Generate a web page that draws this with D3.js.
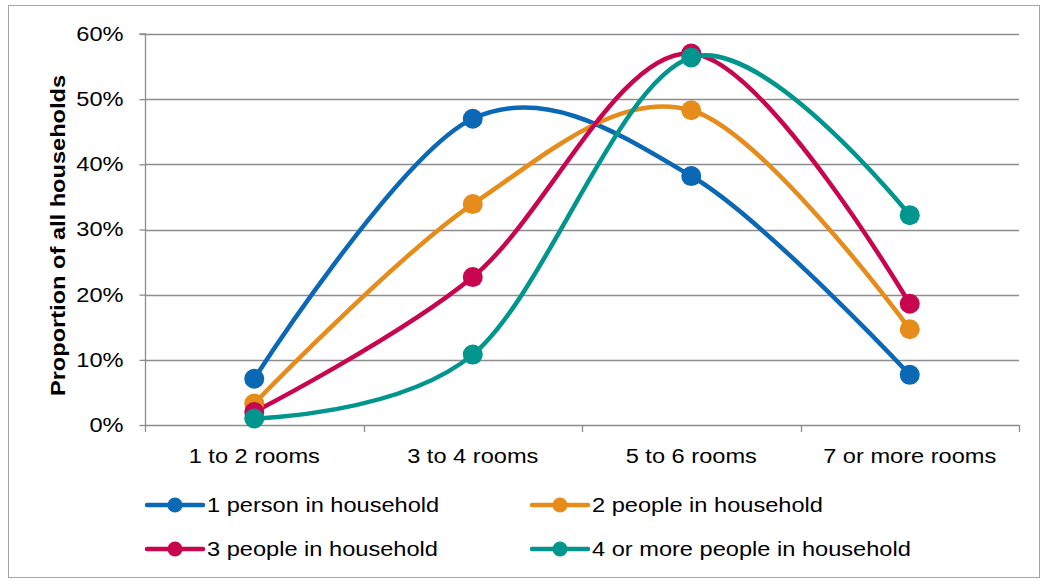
<!DOCTYPE html>
<html><head><meta charset="utf-8">
<script src="https://cdn.jsdelivr.net/npm/d3@7"></script>
<style>body{margin:0;background:#fff;} text{font-family:"Liberation Sans",Arial,sans-serif;}</style>
</head><body><svg id="c" width="1044" height="581"></svg>
<script>
const categories = ["1 to 2 rooms","3 to 4 rooms","5 to 6 rooms","7 or more rooms"];
const seriesNames = ["1 person in household","2 people in household","3 people in household","4 or more people in household"];
const onePerson = [7.1, 47.0, 38.2, 7.7];
const twoPeople = [3.3, 33.9, 48.3, 14.7];
const threePeople = [2.0, 22.7, 57.0, 18.6];
const fourPlus = [1.0, 10.8, 56.4, 32.2];
const yTicks = [0,10,20,30,40,50,60];
const colors = ["#0B68B4","#E68C1A","#C7064F","#00958D"];
const series = [onePerson, twoPeople, threePeople, fourPlus];
const FS = 20, STRETCH = 1.18;

const svg = d3.select("#c");
svg.append("rect").attr("x",8.5).attr("y",5.5).attr("width",1031).attr("height",572)
  .attr("fill","#fff").attr("stroke","#a6a6a6").attr("stroke-width",1);

const L=145, R=1019, T=34, B=425;
const x = d3.scaleBand().domain(categories).range([L,R]);
const y = d3.scaleLinear().domain([0,60]).range([B,T]);

svg.append("g").selectAll("line").data(yTicks.filter(d=>d>0)).join("line")
  .attr("x1",L).attr("x2",R).attr("y1",d=>Math.round(y(d))+0.5).attr("y2",d=>Math.round(y(d))+0.5)
  .attr("stroke","#8c8c8c").attr("stroke-width",1.3);

const ya = svg.append("g").attr("transform",`translate(${L+0.5},0)`)
  .call(d3.axisLeft(y).tickValues(yTicks).tickFormat(d=>d+"%").tickSize(6).tickPadding(16));
ya.select(".domain").attr("stroke","#8c8c8c").attr("stroke-width",1.3).attr("d",`M-6,${T}H0V${B}`);
ya.selectAll(".tick line").attr("stroke","#8c8c8c").attr("stroke-width",1.3);
ya.selectAll(".tick text").attr("font-size",FS).attr("fill","#000").attr("font-family","Liberation Sans, Arial, sans-serif");

const xa = svg.append("g").attr("transform",`translate(0,${B+0.5})`)
  .call(d3.axisBottom(x).tickSize(0).tickPadding(23));
xa.select(".domain").attr("stroke","#8c8c8c").attr("stroke-width",1.3).attr("d",`M${L},0H${R}`);
xa.selectAll(".tick text").attr("font-size",FS).attr("fill","#000").attr("font-family","Liberation Sans, Arial, sans-serif");
const bounds = [...categories.map(c=>x(c)), R];
svg.append("g").selectAll("line").data(bounds).join("line")
  .attr("x1",d=>Math.round(d)+0.5).attr("x2",d=>Math.round(d)+0.5).attr("y1",B).attr("y2",B+7)
  .attr("stroke","#8c8c8c").attr("stroke-width",1.3);

svg.append("text").attr("transform",`translate(65,${(T+B)/2+6}) rotate(-90)`)
  .attr("text-anchor","middle").attr("font-size",FS).attr("font-weight","bold").text("Proportion of all households");

const cx = c => x(c)+x.bandwidth()/2;
const line = d3.line().x((d,i)=>cx(categories[i])).y(d=>y(d)).curve(d3.curveCatmullRom.alpha(0));

series.forEach((s,k)=>{
  svg.append("path").datum(s).attr("d",line).attr("fill","none").attr("stroke",colors[k]).attr("stroke-width",4.5);
});
series.forEach((s,k)=>{
  svg.append("g").selectAll("circle").data(s).join("circle")
    .attr("cx",(d,i)=>cx(categories[i])).attr("cy",d=>y(d)).attr("r",10).attr("fill",colors[k]);
});

const legPos = [[147,505],[532,505],[147,549],[532,549]];
seriesNames.forEach((n,k)=>{
  const [lx,ly]=legPos[k];
  const g=svg.append("g");
  g.append("line").attr("x1",lx).attr("x2",lx+56).attr("y1",ly).attr("y2",ly).attr("stroke",colors[k]).attr("stroke-width",4.5).attr("stroke-linecap","round");
  g.append("circle").attr("cx",lx+28).attr("cy",ly).attr("r",7.5).attr("fill",colors[k]);
  g.append("text").attr("x",lx+60).attr("y",ly+7).attr("font-size",FS).text(n);
});

// widen glyphs to match reference's wider text rendering
svg.selectAll("text").each(function(){
  const w = this.getComputedTextLength();
  d3.select(this).attr("textLength", w*STRETCH).attr("lengthAdjust","spacingAndGlyphs");
});
</script></body></html>
